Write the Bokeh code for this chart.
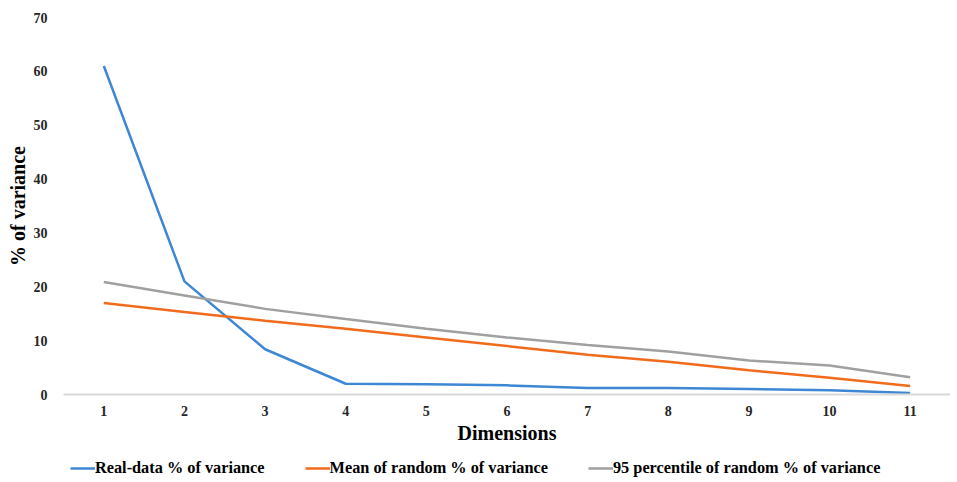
from bokeh.plotting import figure
from bokeh.layouts import column
from bokeh.models import Range1d, FactorRange, Legend, LegendItem, SingleIntervalTicker
from bokeh.embed import file_html
from bokeh.resources import INLINE

dimensions = ["1", "2", "3", "4", "5", "6", "7", "8", "9", "10", "11"]
real_data = [61.0, 21.0, 8.4, 2.0, 1.9, 1.7, 1.2, 1.2, 1.0, 0.8, 0.3]
mean_random = [17.0, 15.3, 13.7, 12.2, 10.6, 9.0, 7.4, 6.1, 4.5, 3.1, 1.6]
pct95_random = [20.9, 18.4, 15.9, 14.0, 12.2, 10.6, 9.2, 8.0, 6.3, 5.4, 3.2]
series = [real_data, mean_random, pct95_random]
series_names = ["Real-data % of variance", "Mean of random % of variance",
                "95 percentile of random % of variance"]
colors = ["#3D87D4", "#F26B1D", "#A0A0A0"]

FONT = "Liberation Serif"
W = 950

p = figure(width=W, height=448, output_backend="svg", toolbar_location=None,
           x_range=FactorRange(*dimensions), y_range=Range1d(0, 70),
           min_border_left=63, min_border_right=0, min_border_top=17,
           min_border_bottom=54)
p.outline_line_color = None
p.xgrid.grid_line_color = None
p.ygrid.grid_line_color = None

for vals, c in zip(series, colors):
    p.line(dimensions, vals, line_color=c, line_width=2.5)

# x axis
xa = p.xaxis[0]
xa.axis_line_color = "#D9D9D9"
xa.axis_line_width = 2
xa.major_tick_line_color = None
xa.minor_tick_line_color = None
xa.major_label_text_font = FONT
xa.major_label_text_font_style = "bold"
xa.major_label_text_font_size = "14px"
xa.major_label_text_color = "#262626"
xa.major_label_standoff = 5
xa.axis_label = "Dimensions"
xa.axis_label_text_font = FONT
xa.axis_label_text_font_style = "bold"
xa.axis_label_text_font_size = "20px"
xa.axis_label_text_color = "#000000"
xa.axis_label_standoff = 3

# y axis
ya = p.yaxis[0]
ya.ticker = SingleIntervalTicker(interval=10)
ya.axis_line_color = None
ya.major_tick_line_color = None
ya.minor_tick_line_color = None
ya.major_label_text_font = FONT
ya.major_label_text_font_style = "bold"
ya.major_label_text_font_size = "14px"
ya.major_label_text_color = "#262626"
ya.major_label_standoff = 10
ya.axis_label = "% of variance"
ya.axis_label_text_font = FONT
ya.axis_label_text_font_style = "bold"
ya.axis_label_text_font_size = "20px"
ya.axis_label_text_color = "#000000"
ya.axis_label_standoff = 2

# legend strip below the chart (series drawn outside its visible y range)
lf = figure(width=W, height=30, output_backend="svg", toolbar_location=None,
            x_range=FactorRange(*dimensions), y_range=Range1d(-200, -199),
            x_axis_location=None, y_axis_location=None,
            min_border_left=0, min_border_right=0, min_border_top=0, min_border_bottom=0)
lf.grid.visible = False
lf.outline_line_color = None
items = []
for n, vals, c in zip(series_names, series, colors):
    r = lf.line(dimensions, vals, line_color=c, line_width=2.5)
    items.append(LegendItem(label=n, renderers=[r]))
legend = Legend(items=items, orientation="horizontal", location=(7, 0),
                label_text_font=FONT, label_text_font_style="bold",
                label_text_font_size="16.3px", label_text_color="#000000",
                glyph_width=25, label_standoff=0, spacing=40,
                padding=2, margin=0, border_line_color=None,
                background_fill_alpha=0)
lf.add_layout(legend)

layout = column(p, lf, spacing=0)
open("out.html", "w").write(file_html(layout, INLINE))
